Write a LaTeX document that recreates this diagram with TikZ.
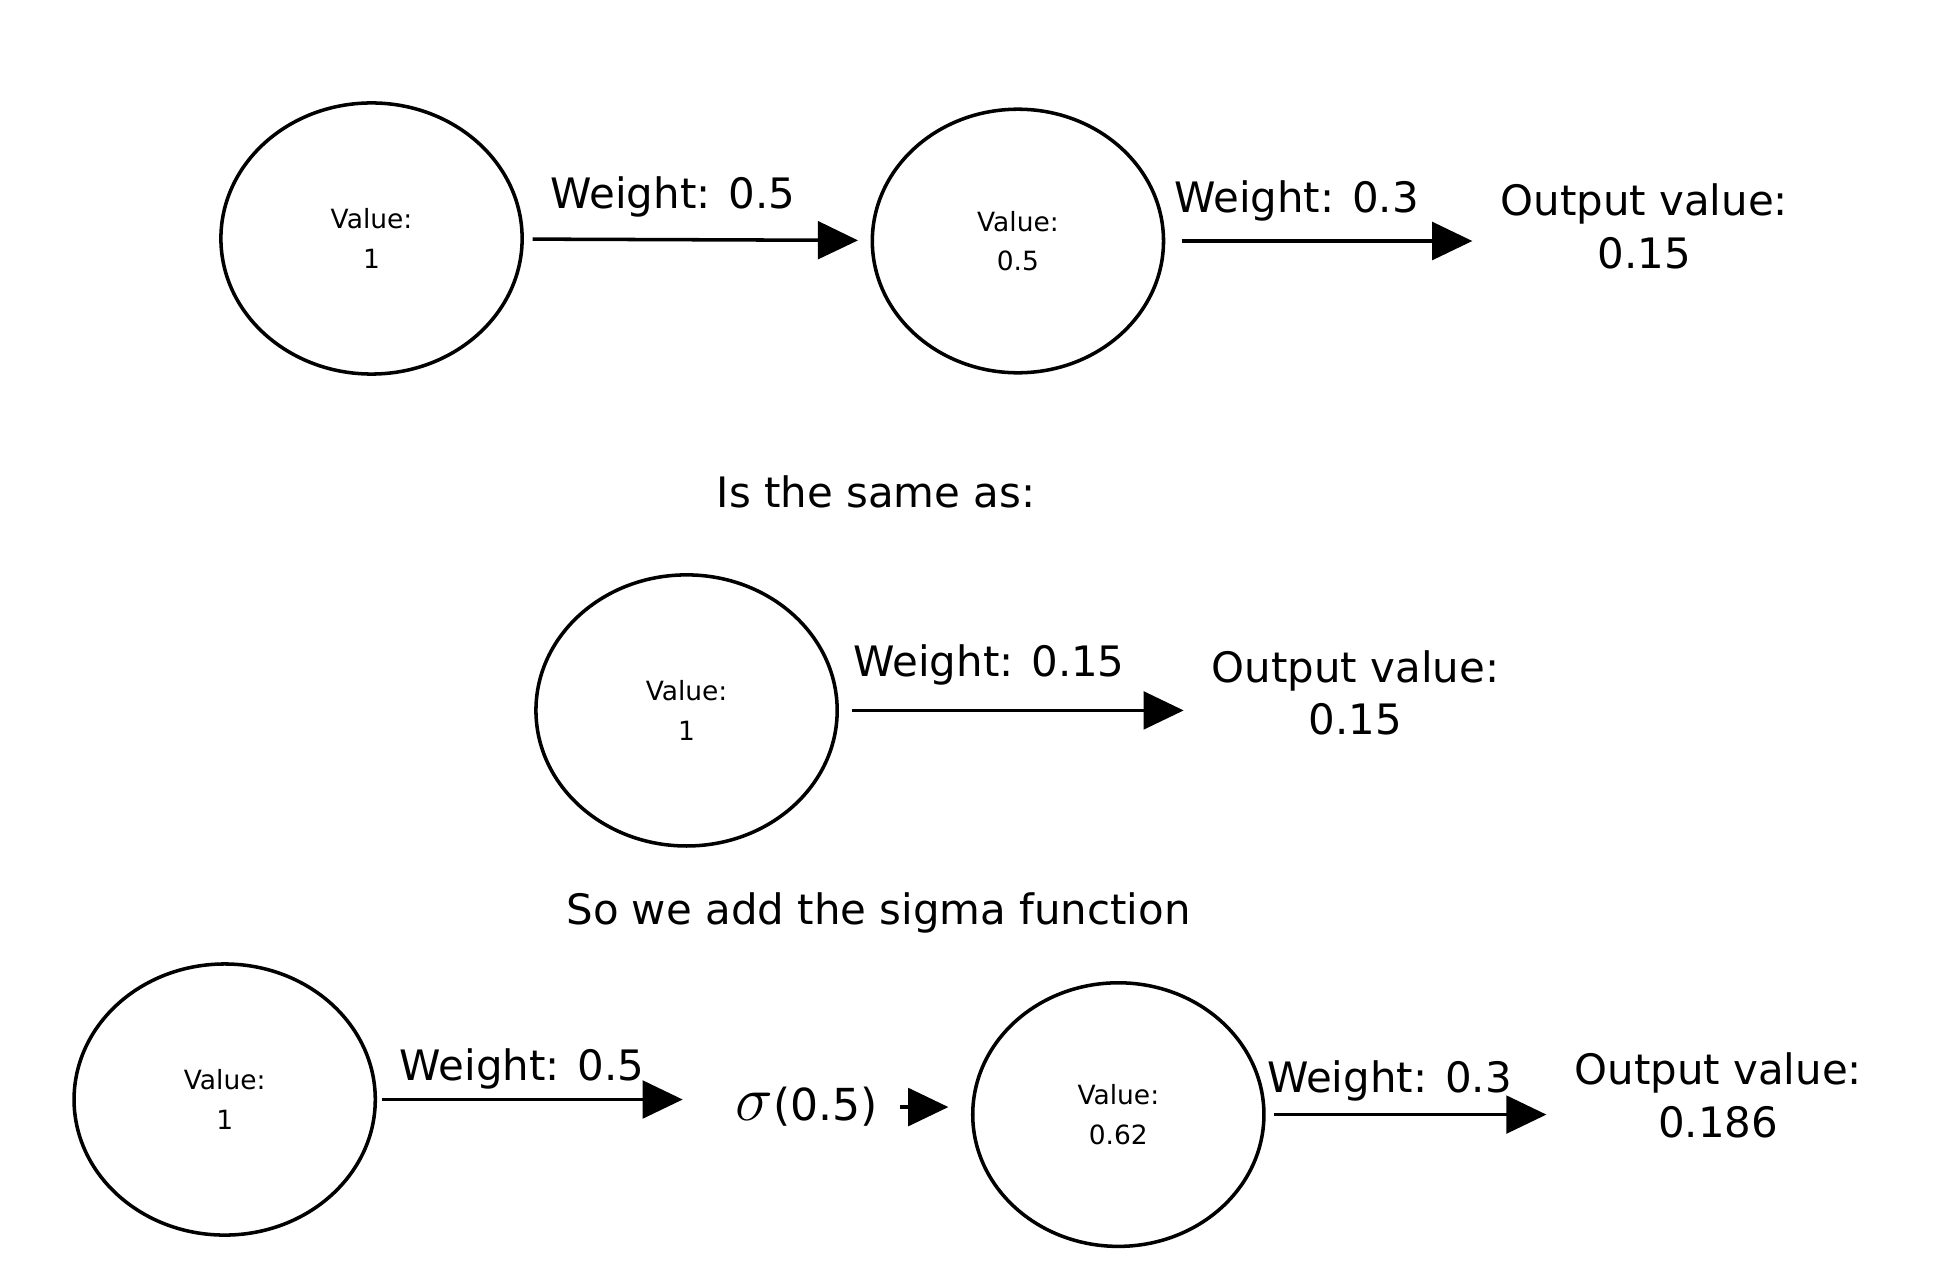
\documentclass[tikz,border=0pt]{standalone}
\usepackage{fontspec}
\setmainfont{DejaVu Sans}
\usetikzlibrary{arrows.meta,shapes.geometric}
\tikzset{
    neuron/.style={draw, ellipse, line width=0.8pt, minimum width=2.4cm, minimum height=2.16cm, align=center, font=\fontsize{6}{9}\selectfont},
    small neuron/.style={neuron, minimum width=2.32cm, minimum height=2.1cm},
    link/.style={line width=0.8pt, -{Triangle[length=0.32cm, width=0.3cm]}},
    wlabel/.style={font=\fontsize{9.5}{12}\selectfont},
    outtext/.style={align=center, font=\fontsize{9.5}{12}\selectfont}
}
\begin{document}
\begin{tikzpicture}[y=-1cm]
    \useasboundingbox (0,0) rectangle (15.6,10.18);
    % First row
    \node[neuron] (a1) at (2.96,1.90) {Value:\\1};
    \node[small neuron] (a2) at (8.11,1.92) {Value:\\0.5};
    \node[outtext] (aout) at (13.10,1.80) {Output value:\\0.15};
    \draw[link, shorten <=0.07cm, shorten >=0.1cm] (a1) -- (a2);
    \node[wlabel] (aw1) at (5.36,1.57) {Weight: 0.5};
    \draw[link, shorten <=0.13cm, shorten >=0.1cm] (a2.east) -- (a2 -| aout.west);
    \node[wlabel] (aw2) at (10.33,1.60) {Weight: 0.3};

    % Middle
    \node[wlabel] (same) at (6.98,3.92) {Is the same as:};
    \node[neuron] (b1) at (5.47,5.66) {Value:\\1};
    \node[outtext] (bout) at (10.80,5.52) {Output value:\\0.15};
    \draw[link, shorten <=0.1cm, shorten >=0.1cm] (b1.east) -- (b1 -| bout.west);
    \node[wlabel] (bw) at (7.88,5.30) {Weight: 0.15};

    % Last row
    \node[wlabel] (sigtext) at (7.00,7.27) {So we add the sigma function};
    \node[neuron] (c1) at (1.79,8.76) {Value:\\1};
    \node[wlabel] (sig) at (6.43,8.82) {\Large$\sigma$\normalsize(0.5)};
    \node[small neuron] (c2) at (8.91,8.88) {Value:\\0.62};
    \node[outtext] (cout) at (13.69,8.73) {Output value:\\0.186};
    \draw[link, shorten <=0.04cm, shorten >=0.3cm] (c1.east) -- (c1 -| sig.west);
    \node[wlabel] (cw1) at (4.16,8.52) {Weight: 0.5};
    \draw[link, shorten <=0.05cm, shorten >=0.18cm] (sig.east) -- (sig -| c2.west);
    \draw[link, shorten <=0.07cm, shorten >=0.1cm] (c2.east) -- (c2 -| cout.west);
    \node[wlabel] (cw2) at (11.07,8.61) {Weight: 0.3};
\end{tikzpicture}
\end{document}
